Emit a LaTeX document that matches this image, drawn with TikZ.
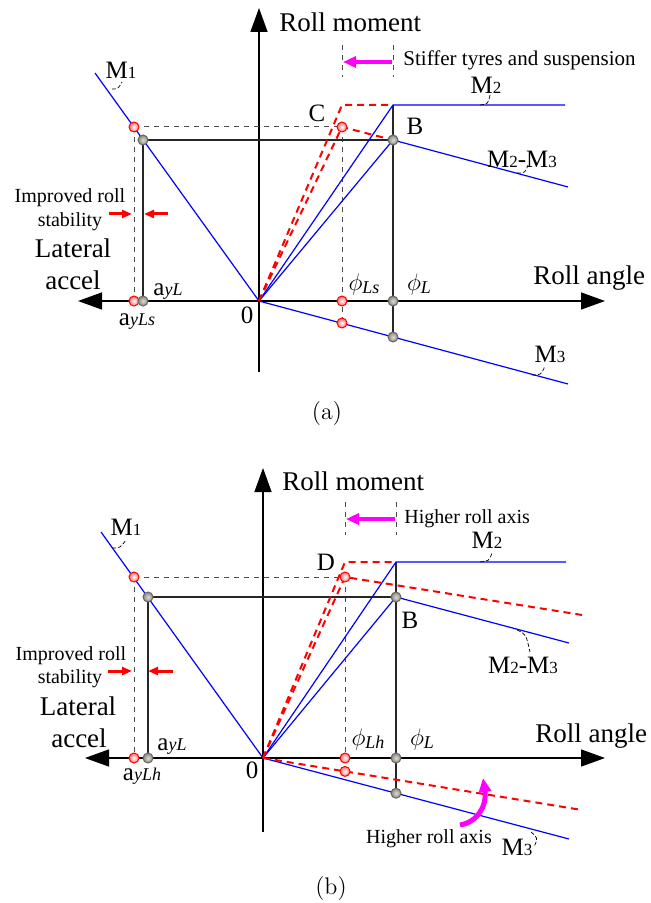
\documentclass[tikz,border=0pt]{standalone}
\usepackage{fontspec}
\newfontfamily\tnr{Liberation Serif}
\usetikzlibrary{arrows.meta}
\definecolor{ptgray}{RGB}{140,135,120}
\definecolor{ptred}{RGB}{255,110,110}
\definecolor{pink}{RGB}{255,0,255}
\newcommand{\Mlbl}[1]{M{\fontsize{8.5}{10}\selectfont #1}}
\newcommand{\aylbl}[1]{a{\fontsize{9}{10}\selectfont\itshape #1}}
\newcommand{\philbl}[1]{$\phi$\raisebox{-1.5pt}{\fontsize{9}{10}\selectfont\itshape #1}}
\tikzset{
	>={Triangle[length=12pt,width=8.5pt]},
	axis/.style={line width=0.7pt, black},
	guide/.style={line width=0.6pt, black!85},
	guidedash/.style={line width=0.5pt, black!70, dash pattern=on 2.5pt off 2.5pt},
	blueline/.style={blue, line width=0.6pt},
	reddash/.style={red, line width=1pt, dash pattern=on 3.5pt off 2.5pt},
	redpt/.style={circle, draw=red, line width=0.5pt, inner sep=0pt, minimum size=5pt,
		inner color=white, outer color=ptred},
	graypt/.style={circle, draw=black!60, line width=0.5pt, inner sep=0pt, minimum size=5pt,
		inner color=white!70!ptgray, outer color=ptgray},
	pinkarr/.style={pink, line width=2pt, -{Triangle[length=6.5pt,width=5.5pt]}},
	redarr/.style={red, line width=1.5pt, -{Triangle[length=5pt,width=4pt]}},
	leader/.style={black, line width=0.35pt, dash pattern=on 2pt off 1pt},
	biglbl/.style={font=\tnr\fontsize{13.5}{16}\selectfont, inner sep=0pt},
	lbl/.style={font=\tnr\fontsize{12.5}{15}\selectfont, inner sep=0pt},
	note/.style={font=\tnr\fontsize{10}{12}\selectfont, inner sep=0pt},
	caplbl/.style={font=\fontsize{12}{14}\selectfont, inner sep=0pt}
}
\begin{document}
\begin{tikzpicture}[x=0.5pt, y=-0.5pt]
	\useasboundingbox (0,0) rectangle (650,903);
	% panel (a)
	\coordinate (Oa) at (259,301);
	\coordinate (Atop) at (259,8);
	\coordinate (Abot) at (259,372);
	\coordinate (Aleft) at (78,301);
	\coordinate (Aright) at (605,301);
	\coordinate (M1a) at (95,73);
	\coordinate (P1a) at (134,127);
	\coordinate (P2a) at (143,140);
	\coordinate (Qa1) at (134,301);
	\coordinate (Qa2) at (143,301);
	\coordinate (Ka) at (342,105);
	\coordinate (Ca) at (342,127);
	\coordinate (Ea) at (393,105);
	\coordinate (Ba) at (393,140);
	\coordinate (M2a) at (565,105);
	\coordinate (M23a) at (568,187);
	\coordinate (M3a) at (568,384);
	\coordinate (Sa) at (342,301);
	\coordinate (Sa3) at (342,323);
	\coordinate (La) at (393,301);
	\coordinate (La3) at (393,337);
	\coordinate (Ta1) at (342,45);
	\coordinate (Ta2) at (342,77);
	\coordinate (Ta3) at (393,45);
	\coordinate (Ta4) at (393,77);
	\draw[axis, ->] (Abot) -- (Atop);
	\draw[axis, <->] (Aleft) -- (Aright);
	\draw[guidedash] (P1a) -- (Ca);
	\draw[guidedash] (P1a) -- (Qa1);
	\draw[guidedash] (Ca) -- (Sa3);
	\draw[guidedash] (Ta1) -- (Ta2);
	\draw[guidedash] (Ta3) -- (Ta4);
	\draw[guide] (P2a) -- (Ba);
	\draw[guide] (P2a) -- (Qa2);
	\draw[guide] (Ea) -- (La3);
	\draw[blueline] (M1a) -- (Oa);
	\draw[blueline] (Oa) -- (Ea) -- (M2a);
	\draw[blueline] (Oa) -- (Ba) -- (M23a);
	\draw[blueline] (Oa) -- (M3a);
	\draw[reddash] (Oa) -- (Ka) -- (Ea);
	\draw[reddash] (Oa) -- (Ca) -- (Ba);
	\foreach \p in {P1a,Qa1,Ca,Sa,Sa3} \node[redpt] (\p pt) at (\p) {};
	\foreach \p in {P2a,Qa2,Ba,La,La3} \node[graypt] (\p pt) at (\p) {};
	\coordinate (Pa1) at (392,62);
	\coordinate (Pa2) at (343,62);
	\draw[pinkarr] (Pa1) -- (Pa2);
	\coordinate (Ra1) at (109,214);
	\coordinate (Ra2) at (132,214);
	\coordinate (Ra3) at (168,214);
	\coordinate (Ra4) at (144,214);
	\draw[redarr] (Ra1) -- (Ra2);
	\draw[redarr] (Ra3) -- (Ra4);
	\node[biglbl, anchor=base west] (rmoma) at (279,32) {Roll moment};
	\node[biglbl, anchor=base west] (rangea) at (533,285) {Roll angle};
	\node[biglbl, anchor=base] (lata) at (73,258) {Lateral};
	\node[biglbl, anchor=base] (acca) at (73,290) {accel};
	\node[note, anchor=base] (impa) at (70,203) {Improved roll};
	\node[note, anchor=base] (staba) at (70,227) {stability};
	\node[note, anchor=base west, font=\tnr\fontsize{10.5}{12}\selectfont] (stiffa) at (403,66) {Stiffer tyres and suspension};
	\node[lbl, anchor=base] (m1a) at (121,79) {\Mlbl{1}};
	\node[lbl, anchor=base] (m2a) at (486,94) {\Mlbl{2}};
	\node[lbl, anchor=base] (m23a) at (522,168) {\Mlbl{2}-\Mlbl{3}};
	\node[lbl, anchor=base] (m3a) at (550,362) {\Mlbl{3}};
	\node[lbl, anchor=base] (ca) at (317,122) {C};
	\node[lbl, anchor=base] (ba) at (415,135) {B};
	\node[lbl, anchor=base] (zeroa) at (247,323) {0};
	\node[lbl, anchor=base] (ayla) at (168,295) {\aylbl{yL}};
	\node[lbl, anchor=base] (aylsa) at (137,325) {\aylbl{yLs}};
	\node[lbl, anchor=base] (phlsa) at (364,291) {\philbl{Ls}};
	\node[lbl, anchor=base] (phla) at (419,291) {\philbl{L}};
	\draw[leader] (112,89) .. controls (118,89) .. (122,82);
	\draw[leader] (480,105) .. controls (488,104) .. (490,95);
	\draw[leader] (517,173) .. controls (525,173) .. (528,165);
	\draw[leader] (532,375) .. controls (541,375) .. (545,366);
	\node[caplbl, anchor=base] (capa) at (327,419) {(a)};
	% panel (b)
	\coordinate (Ob) at (263,758);
	\coordinate (Btop) at (263,468);
	\coordinate (Bbot) at (263,832);
	\coordinate (Bleft) at (85,758);
	\coordinate (Bright) at (605,758);
	\coordinate (M1b) at (101,532);
	\coordinate (P1b) at (134,577);
	\coordinate (P2b) at (148,597);
	\coordinate (Qb1) at (134,758);
	\coordinate (Qb2) at (148,758);
	\coordinate (Kb) at (345,562);
	\coordinate (Db) at (345,577);
	\coordinate (Eb) at (396,562);
	\coordinate (Bb) at (396,597);
	\coordinate (M2b) at (566,562);
	\coordinate (M23b) at (569,643);
	\coordinate (D23b) at (582,615);
	\coordinate (M3b) at (569,839);
	\coordinate (D3b) at (582,810);
	\coordinate (Sb) at (345,758);
	\coordinate (Sb3) at (345,771.4);
	\coordinate (Lb) at (396,758);
	\coordinate (Lb3) at (396,793.2);
	\coordinate (Tb1) at (345,502);
	\coordinate (Tb2) at (345,535);
	\coordinate (Tb3) at (396,502);
	\coordinate (Tb4) at (396,535);
	\draw[axis, ->] (Bbot) -- (Btop);
	\draw[axis, <->] (Bleft) -- (Bright);
	\draw[guidedash] (P1b) -- (Db);
	\draw[guidedash] (P1b) -- (Qb1);
	\draw[guidedash] (Db) -- (Sb3);
	\draw[guidedash] (Tb1) -- (Tb2);
	\draw[guidedash] (Tb3) -- (Tb4);
	\draw[guide] (P2b) -- (Bb);
	\draw[guide] (P2b) -- (Qb2);
	\draw[guide] (Eb) -- (Lb3);
	\draw[blueline] (M1b) -- (Ob);
	\draw[blueline] (Ob) -- (Eb) -- (M2b);
	\draw[blueline] (Ob) -- (Bb) -- (M23b);
	\draw[blueline] (Ob) -- (M3b);
	\draw[reddash] (Ob) -- (Kb) -- (Eb);
	\draw[reddash] (Ob) -- (Db) -- (D23b);
	\draw[reddash] (Ob) -- (D3b);
	\foreach \p in {P1b,Qb1,Db,Sb,Sb3} \node[redpt] (\p pt) at (\p) {};
	\foreach \p in {P2b,Qb2,Bb,Lb,Lb3} \node[graypt] (\p pt) at (\p) {};
	\coordinate (Pb1) at (395,519);
	\coordinate (Pb2) at (346,519);
	\draw[pinkarr] (Pb1) -- (Pb2);
	\coordinate (Hb1) at (460,825);
	\coordinate (Hb2) at (483,778);
	\draw[pink, line width=2.5pt, -{Triangle[length=7pt,width=6pt]}] (Hb1) .. controls (478,822) and (487,805) .. (Hb2);
	\coordinate (Rb1) at (108,671);
	\coordinate (Rb2) at (132,671);
	\coordinate (Rb3) at (173,671);
	\coordinate (Rb4) at (148,671);
	\draw[redarr] (Rb1) -- (Rb2);
	\draw[redarr] (Rb3) -- (Rb4);
	\node[biglbl, anchor=base west] (rmomb) at (282,490) {Roll moment};
	\node[biglbl, anchor=base west] (rangeb) at (535,742) {Roll angle};
	\node[biglbl, anchor=base] (latb) at (78,715) {Lateral};
	\node[biglbl, anchor=base] (accb) at (79,747) {accel};
	\node[note, anchor=base] (impb) at (71,660) {Improved roll};
	\node[note, anchor=base] (stabb) at (70,683) {stability};
	\node[note, anchor=base west] (highb) at (404,523) {Higher roll axis};
	\node[note, anchor=base] (highb2) at (429,843) {Higher roll axis};
	\node[lbl, anchor=base] (m1b) at (126,535) {\Mlbl{1}};
	\node[lbl, anchor=base] (m2b) at (487,548) {\Mlbl{2}};
	\node[lbl, anchor=base] (m23b) at (523,673) {\Mlbl{2}-\Mlbl{3}};
	\node[lbl, anchor=base] (m3b) at (517,855) {\Mlbl{3}};
	\node[lbl, anchor=base] (db) at (326,570) {D};
	\node[lbl, anchor=base] (bb) at (410,628) {B};
	\node[lbl, anchor=base] (zerob) at (252,778) {0};
	\node[lbl, anchor=base] (aylb) at (172,750) {\aylbl{yL}};
	\node[lbl, anchor=base] (aylhb) at (142,780) {\aylbl{yLh}};
	\node[lbl, anchor=base] (phlhb) at (368,745) {\philbl{Lh}};
	\node[lbl, anchor=base] (phlb) at (422,745) {\philbl{L}};
	\draw[leader] (112,548) .. controls (120,548) .. (126,540);
	\draw[leader] (480,562) .. controls (489,561) .. (492,553);
	\draw[leader] (517,630) .. controls (526,634) .. (530,652);
	\draw[leader] (531,832) .. controls (538,838) .. (534,847);
	\node[caplbl, anchor=base] (capb) at (331,894) {(b)};
\end{tikzpicture}
\end{document}
